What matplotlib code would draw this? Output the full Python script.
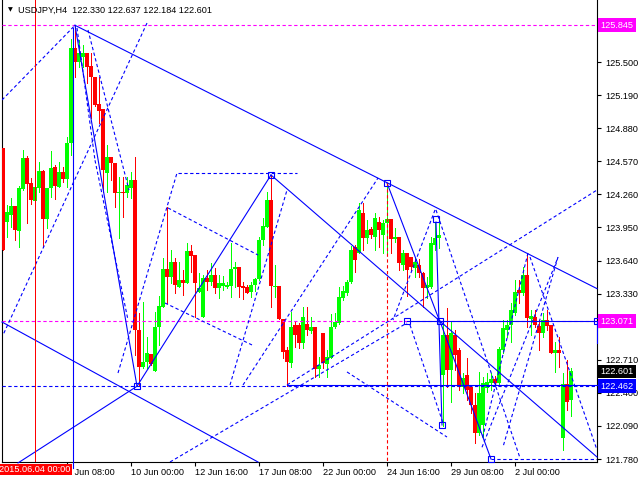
import matplotlib
matplotlib.use("Agg")
import matplotlib.pyplot as plt
import matplotlib.transforms as mtransforms

# H4 candles, bar 0 is the first visible bar
opens = [124.695, 124.001, 124.067, 124.151, 123.917, 124.311, 124.601, 124.367, 124.198, 124.320,
         124.479, 124.030, 124.320, 124.517, 124.329, 124.470, 124.404, 124.742, 125.632, 125.501,
         125.548, 125.585, 125.463, 125.360, 125.107, 125.060, 124.461, 124.611, 124.554, 124.273,
         124.283, 124.273, 124.320, 124.395, 122.989, 122.642, 122.689, 122.764, 122.605, 123.017,
         123.205, 123.561, 123.486, 123.626, 123.392, 123.458, 123.430, 123.730, 123.692, 123.345,
         123.111, 123.477, 123.439, 123.505, 123.383, 123.402, 123.392, 123.402, 123.561, 123.580,
         123.402, 123.392, 123.345, 123.411, 123.467, 123.833, 123.955, 124.208, 123.392, 123.402,
         123.092, 122.802, 122.680, 123.036, 123.036, 122.867, 123.045, 122.980, 123.017, 122.624,
         122.961, 122.671, 122.727, 123.017, 123.055, 123.289, 123.336, 123.439, 123.767, 123.711,
         124.086, 123.851, 123.936, 123.861, 124.001, 123.880, 123.992, 124.030, 123.842, 123.861,
         123.598, 123.711, 123.673, 123.570, 123.598, 123.523, 123.383, 123.392, 123.786, 123.851,
         122.567, 122.942, 122.614, 122.942, 122.802, 122.455, 122.567, 122.455, 122.286, 122.024,
         122.099, 122.445, 122.492, 122.530, 122.492, 122.802, 122.989, 123.036, 123.149, 123.364,
         123.336, 123.505, 123.092, 123.111, 123.027, 122.961, 123.083, 123.036, 122.774, 122.802,
         121.977, 122.483, 122.330]
highs = [124.695, 124.161, 124.226, 124.151, 124.339, 124.676, 124.620, 124.414, 124.376, 124.564,
         124.489, 124.320, 124.667, 124.536, 124.564, 124.517, 124.798, 125.716, 125.845, 125.707,
         125.660, 125.585, 125.585, 125.360, 125.360, 125.060, 124.723, 124.611, 124.554, 124.423,
         124.423, 124.423, 124.470, 124.611, 123.149, 123.252, 122.924, 122.764, 123.158, 123.308,
         123.664, 124.142, 123.739, 123.664, 123.626, 123.551, 123.805, 123.786, 123.692, 123.523,
         123.505, 123.551, 123.617, 123.570, 123.505, 123.495, 123.439, 123.805, 123.626, 123.580,
         123.439, 123.411, 123.439, 123.477, 123.861, 124.039, 124.283, 124.442, 123.598, 123.402,
         123.092, 122.830, 123.158, 123.064, 123.055, 123.205, 123.205, 123.111, 123.017, 122.736,
         122.961, 122.802, 123.139, 123.149, 123.392, 123.402, 123.458, 123.776, 123.786, 124.180,
         124.180, 124.020, 123.955, 124.086, 124.048, 124.020, 124.367, 124.030, 123.945, 123.861,
         123.739, 123.711, 123.673, 123.664, 123.655, 123.533, 123.486, 123.861, 124.001, 123.992,
         123.055, 123.195, 123.064, 122.989, 122.821, 122.586, 122.727, 122.474, 122.399, 122.596,
         122.549, 122.586, 122.586, 122.558, 122.830, 123.083, 123.083, 123.242, 123.458, 123.458,
         123.580, 123.711, 123.177, 123.177, 123.083, 123.149, 123.177, 123.036, 122.877, 122.924,
         122.586, 122.708, 122.637]
lows = [123.739, 123.861, 123.955, 123.833, 123.767, 124.301, 123.992, 124.170, 124.161, 124.283,
        123.767, 123.945, 124.236, 124.217, 124.329, 124.376, 124.329, 124.629, 125.360, 125.454,
        125.454, 125.304, 124.976, 125.089, 124.929, 124.283, 124.283, 124.395, 124.142, 123.851,
        124.048, 124.236, 124.226, 122.755, 122.462, 122.633, 122.633, 122.661, 122.605, 122.849,
        123.205, 123.242, 123.430, 123.336, 123.392, 123.317, 123.430, 123.533, 123.111, 123.345,
        123.111, 123.364, 123.411, 123.336, 123.289, 123.364, 123.383, 123.299, 123.392, 123.299,
        123.280, 123.336, 123.299, 123.355, 123.458, 123.786, 123.955, 123.205, 123.299, 123.092,
        122.727, 122.462, 122.642, 122.830, 122.821, 122.821, 122.942, 122.961, 122.549, 122.549,
        122.633, 122.549, 122.727, 123.008, 123.045, 123.270, 123.317, 123.430, 123.533, 123.711,
        123.739, 123.805, 123.851, 123.739, 123.767, 123.711, 123.711, 123.711, 123.814, 123.551,
        123.551, 123.308, 123.551, 123.486, 123.486, 123.205, 123.289, 123.383, 123.739, 123.758,
        122.090, 122.455, 122.314, 122.614, 122.427, 122.399, 122.333, 122.211, 121.930, 122.005,
        121.986, 122.408, 122.427, 122.474, 122.474, 122.774, 122.924, 122.877, 123.130, 123.242,
        123.317, 123.017, 122.942, 123.020, 122.802, 122.924, 122.989, 122.774, 122.596, 122.642,
        121.864, 122.240, 122.184]
closes = [123.739, 124.095, 124.151, 123.926, 124.320, 124.601, 124.358, 124.208, 124.329, 124.479,
          124.030, 124.320, 124.508, 124.339, 124.470, 124.404, 124.742, 125.632, 125.501, 125.585,
          125.585, 125.454, 125.360, 125.098, 125.042, 124.489, 124.611, 124.554, 124.273, 124.283,
          124.273, 124.348, 124.395, 122.989, 122.642, 122.689, 122.774, 122.671, 123.017, 123.214,
          123.561, 123.486, 123.626, 123.411, 123.458, 123.430, 123.730, 123.683, 123.430, 123.383,
          123.477, 123.439, 123.505, 123.383, 123.430, 123.430, 123.411, 123.561, 123.580, 123.392,
          123.383, 123.336, 123.411, 123.467, 123.833, 123.964, 124.208, 123.402, 123.402, 123.092,
          122.783, 122.689, 123.017, 122.942, 122.867, 123.111, 122.989, 123.017, 122.624, 122.661,
          122.680, 122.736, 123.017, 123.064, 123.299, 123.355, 123.439, 123.739, 123.645, 124.114,
          123.851, 123.926, 123.880, 124.039, 123.926, 123.992, 124.030, 123.842, 123.861, 123.617,
          123.711, 123.551, 123.580, 123.626, 123.523, 123.383, 123.411, 123.805, 123.851, 123.880,
          122.942, 122.614, 122.961, 122.755, 122.455, 122.539, 122.427, 122.286, 122.024, 122.399,
          122.492, 122.502, 122.530, 122.492, 122.811, 123.008, 123.036, 123.177, 123.345, 123.336,
          123.505, 123.102, 123.120, 123.036, 122.961, 123.083, 123.027, 122.774, 122.802, 122.774,
          122.483, 122.314, 122.601]

# time axis
tick_bars = [16, 32, 48, 64, 80, 96, 112, 128]
tick_labels = ["5 Jun 08:00", "10 Jun 00:00", "12 Jun 16:00", "17 Jun 08:00",
               "22 Jun 00:00", "24 Jun 16:00", "29 Jun 08:00", "2 Jul 00:00"]
cursor_bar = 8
cursor_label = "2015.06.04 00:00"
price_ticks = [121.780, 122.090, 122.400, 122.710, 123.020, 123.330, 123.640,
               123.950, 124.260, 124.570, 124.880, 125.190, 125.500, 125.810]
# these two scale labels sit under the level boxes
hidden_ticks = [123.020, 125.810]

# levels drawn on the chart
level_high = 125.845
level_mid = 123.071
level_low = 122.462
last_price = 122.601
header = "USDJPY,H4  122.330 122.637 122.184 122.601"

# analysis lines: (bar0, price0, bar1, price1)
solid_lines = [
    (18, 125.845, 148.5, 123.377),
    (18, 125.845, 33.5, 122.462),
    (33.5, 122.462, 67, 124.442),
    (67, 124.442, 148.5, 121.799),
    (96, 124.367, 109.25, 123.064),
    (108.25, 124.001, 109.75, 122.099),
    (109.25, 123.071, 122, 121.780),
    (17.5, 125.82, 17.5, 121.70),
    (101, 123.071, 148.5, 123.071),
    (71, 122.474, 148.5, 122.474),
    (-0.25, 123.064, 63.75, 121.752),
    (3.75, 121.743, 33.5, 122.462),
    (148.5, 123.071, 148.5, 122.867),
]
dashed_lines = [
    (-0.25, 122.462, 148.5, 122.462),
    (43.75, 124.461, 73.5, 124.461),
    (122, 121.780, 148.5, 121.780),
    (-0.25, 125.145, 18, 125.845),
    (36, 125.866, 0, 122.942),
    (21.25, 125.801, 31.5, 124.300),
    (18.5, 125.820, 23, 124.580),
    (23, 124.580, 31.25, 123.083),
    (28.75, 122.586, 43.5, 124.461),
    (41.25, 124.133, 63.75, 123.692),
    (40.5, 123.242, 62.25, 122.849),
    (56.75, 122.474, 71, 124.301),
    (60, 122.474, 93.75, 124.414),
    (41.75, 121.752, 101, 123.055),
    (71, 122.474, 148.5, 124.301),
    (108.25, 124.114, 129.25, 121.79),
    (108, 124.114, 97.5, 123.083),
    (86, 122.596, 111, 121.986),
    (101.75, 123.036, 110, 122.118),
    (131.25, 123.711, 119.75, 121.96),
    (119.75, 121.89, 138.75, 123.67),
    (131.75, 123.673, 148.5, 121.865),
    (138.75, 123.673, 125, 121.893),
]
squares = [(33.5, 122.462), (67, 124.442), (96, 124.367), (108.25, 124.03),
           (109.75, 122.099), (101, 123.071), (109.25, 123.071), (122, 121.780),
           (148.5, 123.071)]

BLUE = "#0000ff"
MAGENTA = "#ff00ff"
plt.rcParams["font.family"] = ["Liberation Sans", "DejaVu Sans"]
plt.rcParams["lines.scale_dashes"] = False
FS = 6.6
LW = 0.8
DASH = (2.4, 1.8)
PX = 0.72  # one pixel at 100 dpi

fig = plt.figure(figsize=(6.4, 4.8), dpi=100)
ax = fig.add_axes([2 / 640, 18 / 480, 595 / 640, 462 / 480])
ax.set_xlim(-0.25, 148.5)
ax.set_ylim(121.752, 126.082)

# candles, drawn crisp like the terminal does
for i in range(len(opens)):
    o, h, l, c = opens[i], highs[i], lows[i], closes[i]
    col = "#00ff00" if c >= o else "#ff0000"
    ax.vlines(i, l, h, color=col, lw=PX, zorder=3, antialiased=False)
    ax.bar(i, max(abs(c - o), 0.009), bottom=min(o, c), width=0.8,
           color=col, linewidth=0, zorder=3, antialiased=False)

# horizontal levels
ax.axhline(level_high, color=MAGENTA, lw=LW, dashes=DASH, zorder=4)
ax.axhline(level_mid, color=MAGENTA, lw=LW, dashes=DASH, zorder=4)

for b0, p0, b1, p1 in solid_lines:
    ax.plot([b0, b1], [p0, p1], color=BLUE, lw=LW, zorder=4, clip_on=False)
for b0, p0, b1, p1 in dashed_lines:
    ax.plot([b0, b1], [p0, p1], color=BLUE, lw=LW, dashes=DASH, zorder=4)
for b, p in squares:
    ax.plot(b, p, marker="s", ms=4.5, mfc="none", mec=BLUE, mew=0.8, zorder=5,
            clip_on=False)

# cursor lines
ax.axvline(cursor_bar, color="#ff0000", lw=PX, zorder=4, antialiased=False)
ax.plot([96, 96], [124.367, 121.752], color="#ff0000", lw=LW, dashes=DASH, zorder=4)

# frame and axes
ax.spines["top"].set_visible(False)
for s in ["left", "right", "bottom"]:
    ax.spines[s].set_linewidth(0.8)
ax.yaxis.tick_right()
ax.set_yticks(price_ticks)
ax.set_yticklabels(["" if p in hidden_ticks else f"{p:.3f}" for p in price_ticks])
ax.tick_params(axis="y", direction="out", length=3, width=0.8, pad=3, labelsize=FS)
ax.set_xticks(tick_bars)
ax.set_xticklabels(tick_labels, ha="left")
ax.tick_params(axis="x", direction="out", length=3, width=0.8, pad=1.5, labelsize=FS)

# price boxes on the right axis
ytrans = mtransforms.blended_transform_factory(ax.transAxes, ax.transData)
for val, bg in [(level_high, MAGENTA), (level_mid, MAGENTA), (last_price, "black"),
                (level_low, BLUE)]:
    ax.text(1.006, val, f"{val:.3f}", transform=ytrans, ha="left", va="center",
            fontsize=FS, color="white", clip_on=False, zorder=10,
            bbox=dict(boxstyle="square,pad=0.25", fc=bg, ec="none"))

# cursor date box
xtrans = mtransforms.blended_transform_factory(ax.transData, ax.transAxes)
ax.text(cursor_bar, -0.006, cursor_label, transform=xtrans, ha="center", va="top",
        fontsize=FS, color="white", clip_on=False, zorder=10,
        bbox=dict(boxstyle="square,pad=0.12", fc="#ff0000", ec="none"))

# header
fig.text(8 / 640, 1 - 10 / 480, "\u25bc", fontsize=4.5, family="DejaVu Sans", va="center")
fig.text(18 / 640, 1 - 10 / 480, header, fontsize=FS, va="center")

fig.savefig("out.png", dpi=100)
